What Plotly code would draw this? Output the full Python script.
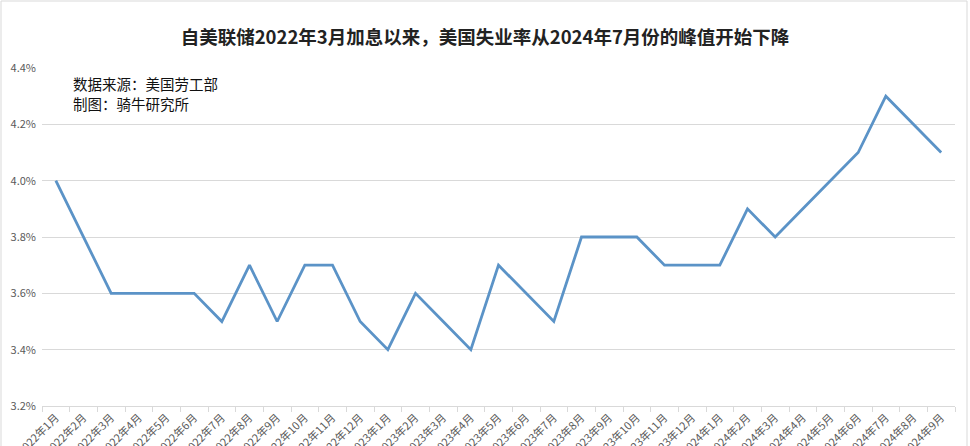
import plotly.graph_objects as go

months = [f"{y}年{m}月" for y, ms in ((2022, range(1, 13)), (2023, range(1, 13)), (2024, range(1, 10))) for m in ms]
rates = [4.0, 3.8, 3.6, 3.6, 3.6, 3.6, 3.5, 3.7, 3.5, 3.7, 3.7, 3.5,
         3.4, 3.6, 3.5, 3.4, 3.7, 3.6, 3.5, 3.8, 3.8, 3.8, 3.7, 3.7,
         3.7, 3.9, 3.8, 3.9, 4.0, 4.1, 4.3, 4.2, 4.1]
y_ticks = [3.2, 3.4, 3.6, 3.8, 4.0, 4.2, 4.4]

title = "自美联储2022年3月加息以来，美国失业率从2024年7月份的峰值开始下降"
note_lines = ["数据来源：美国劳工部", "制图：骑牛研究所"]

W, H = 970, 446
ml, mr, mt, mb = 42, 15, 68, 40
pw, ph = W - ml - mr, H - mt - mb

fig = go.Figure(go.Scatter(
    x=months, y=rates, mode="lines",
    line=dict(color="#5B93C7", width=2.8),
    hoverinfo="skip",
))

annotations = []
for i, txt in enumerate(note_lines):
    annotations.append(dict(text=txt, xref="paper", yref="paper", x=(71 - ml) / pw,
                            y=1 - (83 + 20 * i - mt) / ph,
                            xanchor="left", yanchor="middle", align="left", showarrow=False,
                            font=dict(size=14.5, color="#111111", family="Noto Sans CJK SC")))

fig.update_layout(
    width=W, height=H,
    margin=dict(l=ml, r=mr, t=mt, b=mb),
    paper_bgcolor="white", plot_bgcolor="white",
    showlegend=False,
    font=dict(family="Noto Sans CJK SC, Noto Sans, sans-serif", color="#595959"),
    title=dict(text=f"<b>{title}</b>", x=0.5, xanchor="center", y=1 - 38 / H, yanchor="middle",
               font=dict(size=18.5, color="#222222", family="Noto Sans CJK SC")),
    annotations=annotations,
    shapes=[dict(type="rect", xref="paper", yref="paper",
                 x0=-(ml - 1) / pw, x1=1 + (mr - 3) / pw, y0=-(mb + 5) / ph, y1=1 + (mt - 1) / ph,
                 line=dict(color="#d9d9d9", width=1), layer="below")],
)

fig.update_xaxes(
    type="category", range=[-0.5, len(months) - 0.5],
    tickangle=-45, tickfont=dict(size=11, color="#595959"),
    showgrid=False, showline=True, linecolor="#d9d9d9", linewidth=1,
    ticks="outside", tickson="boundaries", ticklen=5, tickcolor="#d9d9d9",
    automargin=False,
)
fig.update_yaxes(
    range=[3.2, 4.4], tickvals=y_ticks, ticktext=[f"{v:.1f}%" for v in y_ticks],
    tickfont=dict(size=11, color="#595959"), ticklabelstandoff=5,
    showgrid=True, gridcolor="#d9d9d9", gridwidth=1,
    zeroline=False, showline=False, ticks="", automargin=False,
)

fig.write_html("out.html", config={"displayModeBar": False, "staticPlot": True},
               post_script="document.body.style.margin='0';document.body.style.overflow='hidden';")
